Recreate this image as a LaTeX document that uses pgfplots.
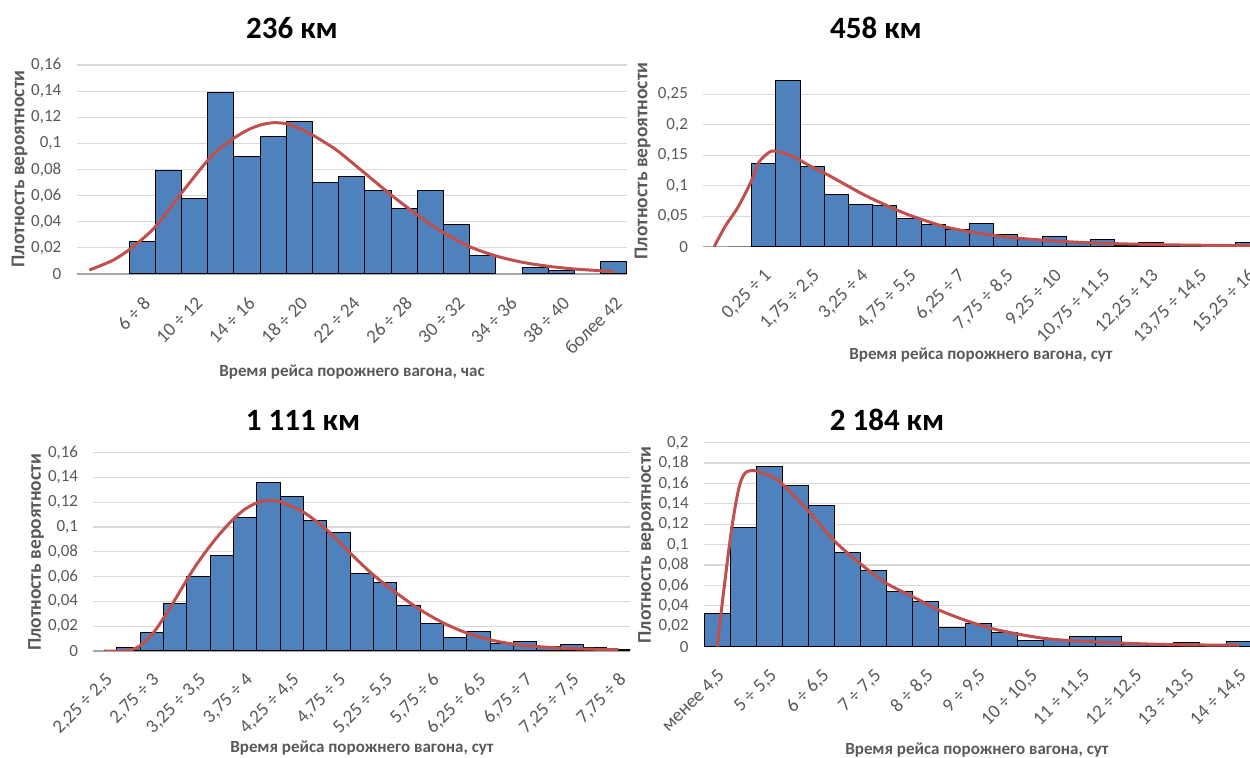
\documentclass[border=0pt]{standalone}
\usepackage{pgfplots}
\pgfplotsset{compat=1.18}
\usepackage{fontspec}
\setmainfont{Carlito}
\definecolor{barblue}{HTML}{4F81BD}
\definecolor{curvered}{HTML}{C0504D}
\definecolor{txtgray}{HTML}{595959}
\definecolor{gridgray}{HTML}{D9D9D9}
\definecolor{axgray}{HTML}{A6A6A6}
\newcommand\tickfont{\fontsize{8.5pt}{10pt}\selectfont}
\newcommand\xtickfont{\fontsize{9.5pt}{11pt}\selectfont}
\newcommand\labfont{\fontsize{8.5pt}{10pt}\selectfont\bfseries}
\newcommand\ylabfont{\fontsize{9.75pt}{11pt}\selectfont\bfseries}
\newcommand\titfont{\fontsize{15.5pt}{18pt}\selectfont\bfseries}
\pgfplotsset{
  hist/.style={
    scale only axis, anchor=south west,
    axis x line*=bottom, axis y line*=left,
    y axis line style={draw=none},
    x axis line style={draw=axgray, line width=0.75pt, -},
    major tick length=0pt,
    ymajorgrids, grid style={draw=gridgray, line width=0.6pt},
    xticklabel style={yshift=-13pt, xshift=2.5pt, rotate=45, anchor=east, inner sep=0pt, font=\xtickfont, text=txtgray},
    yticklabel style={inner sep=0pt, xshift=-7.5pt, font=\tickfont, text=txtgray},
  },
  bars/.style={ybar, bar width=1, bar shift=0pt, fill=barblue, draw=black, line width=0.5pt},
  curve/.style={curvered, line width=1.5pt, smooth},
}
\begin{document}
\begin{tikzpicture}
\useasboundingbox (0pt,0pt) rectangle (625pt,379pt);
\clip (0pt,0pt) rectangle (625pt,379pt);
% ---------- 236 km ----------
\begin{axis}[hist, at={(38.35pt,242pt)}, width=275.15pt, height=104.5pt,
  xmin=-2.5, xmax=18.5, ymin=0, ymax=0.16,
  ytick={0,0.02,0.04,0.06,0.08,0.1,0.12,0.14,0.16},
  yticklabels={0,{0,02},{0,04},{0,06},{0,08},{0,1},{0,12},{0,14},{0,16}},
  xtick={0,2,4,6,8,10,12,14,16,18},
  xticklabels={{6 ÷ 8},{10 ÷ 12},{14 ÷ 16},{18 ÷ 20},{22 ÷ 24},{26 ÷ 28},{30 ÷ 32},{34 ÷ 36},{38 ÷ 40},{более 42}}]
\addplot[bars] coordinates {(0,0.025) (1,0.079) (2,0.058) (3,0.1386) (4,0.0898) (5,0.105) (6,0.1166) (7,0.0697) (8,0.0745) (9,0.064) (10,0.0498) (11,0.0638) (12,0.0377) (13,0.014) (15,0.0052) (16,0.0023) (18,0.0092)};
\addplot[curve] coordinates {(-2.02,0.003) (-1.1,0.0107) (-0.34,0.021) (0.5,0.0362) (1.5,0.062) (2.5,0.087) (3.0,0.0965) (3.5,0.104) (4.0,0.110) (4.5,0.114) (5.0,0.1158) (5.5,0.115) (6.0,0.1115) (6.5,0.1064) (7.0,0.1003) (7.5,0.0936) (8.5,0.0771) (9.5,0.0605) (10.5,0.0452) (11.5,0.0316) (12.5,0.0209) (13.5,0.0138) (14.5,0.009) (15.5,0.0059) (16.5,0.0038) (17.5,0.0025) (18.0,0.0018)};
\end{axis}
% ---------- 458 km ----------
\begin{axis}[hist, at={(351.65pt,255.65pt)}, width=278.3pt, height=91.45pt,
  xmin=-2.5, xmax=20.5, ymin=0, ymax=0.3,
  ytick={0,0.05,0.1,0.15,0.2,0.25},
  yticklabels={0,{0,05},{0,1},{0,15},{0,2},{0,25}},
  xtick={0,2,4,6,8,10,12,14,16,18,20},
  xticklabels={{0,25 ÷ 1},{1,75 ÷ 2,5},{3,25 ÷ 4},{4,75 ÷ 5,5},{6,25 ÷ 7},{7,75 ÷ 8,5},{9,25 ÷ 10},{10,75 ÷ 11,5},{12,25 ÷ 13},{13,75 ÷ 14,5},{15,25 ÷ 16}}]
\addplot[ybar, bar width=1, bar shift=0pt, draw=gray, fill=none, line width=0.6pt] coordinates {(-1,0)};
\addplot[bars] coordinates {(0,0.136) (1,0.272) (2,0.132) (3,0.086) (4,0.069) (5,0.067) (6,0.046) (7,0.037) (8,0.0285) (9,0.038) (10,0.0208) (11,0.012) (12,0.016) (13,0.0066) (14,0.012) (15,0.0027) (16,0.007) (17,0.0025) (18,0.0015) (19,0.0015) (20,0.007)};
\addplot[curve] coordinates {(-2.05,0) (-1.6,0.033) (-1.05,0.066) (-0.5,0.109) (-0.23,0.137) (0.19,0.154) (0.46,0.157) (1.15,0.149) (1.84,0.134) (2.5,0.121) (3.0,0.110) (3.5,0.099) (4.0,0.088) (4.5,0.078) (5.0,0.069) (5.5,0.060) (6.0,0.052) (6.5,0.045) (7.5,0.0325) (8.5,0.0245) (9.5,0.0185) (10.5,0.014) (11.5,0.0108) (12.5,0.0083) (13.5,0.0064) (14.5,0.005) (15.5,0.004) (16.5,0.0032) (17.5,0.0026) (18.5,0.0022) (19.5,0.0019) (20.2,0.0017)};
\end{axis}
% ---------- 1 111 km ----------
\begin{axis}[hist, at={(46.75pt,53.5pt)}, width=268.3pt, height=99.15pt,
  xmin=-0.5, xmax=22.5, ymin=0, ymax=0.16,
  ytick={0,0.02,0.04,0.06,0.08,0.1,0.12,0.14,0.16},
  yticklabels={0,{0,02},{0,04},{0,06},{0,08},{0,1},{0,12},{0,14},{0,16}},
  xtick={0,2,4,6,8,10,12,14,16,18,20,22},
  xticklabels={{2,25 ÷ 2,5},{2,75 ÷ 3},{3,25 ÷ 3,5},{3,75 ÷ 4},{4,25 ÷ 4,5},{4,75 ÷ 5},{5,25 ÷ 5,5},{5,75 ÷ 6},{6,25 ÷ 6,5},{6,75 ÷ 7},{7,25 ÷ 7,5},{7,75 ÷ 8}}]
\addplot[bars] coordinates {(1,0.0025) (2,0.0148) (3,0.0387) (4,0.0605) (5,0.0769) (6,0.108) (7,0.136) (8,0.1245) (9,0.105) (10,0.096) (11,0.0627) (12,0.0553) (13,0.0366) (14,0.0223) (15,0.0108) (16,0.0156) (17,0.0062) (18,0.0073) (19,0.004) (20,0.0051) (21,0.0027) (22,0.0016)};
\addplot[curve] coordinates {(-0.05,0) (0.91,0.0003) (1.48,0.004) (2.05,0.0143) (2.62,0.0299) (3.19,0.0476) (3.76,0.0653) (4.34,0.0809) (4.91,0.0944) (5.48,0.1062) (6.0,0.1145) (6.5,0.1195) (7.0,0.1215) (7.5,0.1205) (8.5,0.112) (9.5,0.0977) (10.5,0.079) (11.5,0.0613) (12.5,0.0466) (13.5,0.0333) (14.5,0.0226) (15.5,0.0145) (16.5,0.009) (17.5,0.0055) (18.5,0.0036) (19.5,0.0024) (20.5,0.0016) (22,0.001)};
\end{axis}
% ---------- 2 184 km ----------
\begin{axis}[hist, at={(352pt,55.65pt)}, width=274.05pt, height=102pt,
  xmin=-0.5, xmax=20.5, ymin=0, ymax=0.2,
  ytick={0,0.02,0.04,0.06,0.08,0.1,0.12,0.14,0.16,0.18,0.2},
  yticklabels={0,{0,02},{0,04},{0,06},{0,08},{0,1},{0,12},{0,14},{0,16},{0,18},{0,2}},
  xtick={0,2,4,6,8,10,12,14,16,18,20},
  xticklabels={{менее 4,5},{5 ÷ 5,5},{6 ÷ 6,5},{7 ÷ 7,5},{8 ÷ 8,5},{9 ÷ 9,5},{10 ÷ 10,5},{11 ÷ 11,5},{12 ÷ 12,5},{13 ÷ 13,5},{14 ÷ 14,5}}]
\addplot[bars] coordinates {(0,0.0324) (1,0.1167) (2,0.177) (3,0.158) (4,0.1386) (5,0.0928) (6,0.0745) (7,0.0539) (8,0.0445) (9,0.0189) (10,0.0228) (11,0.0137) (12,0.0059) (13,0.0066) (14,0.0098) (15,0.0098) (16,0.0023) (17,0.0033) (18,0.0039) (19,0.0017) (20,0.0049)};
\addplot[curve] coordinates {(0,0) (0.5,0.1046) (0.82,0.1536) (1.07,0.170) (1.46,0.1725) (2.1,0.1667) (2.48,0.160) (3.47,0.134) (4.46,0.1046) (5.47,0.0817) (6.5,0.062) (7.5,0.049) (8.5,0.036) (9.5,0.026) (10.5,0.018) (11.5,0.0125) (12.5,0.0083) (13.5,0.006) (15.5,0.0035) (17.5,0.002) (20,0.0014)};
\end{axis}
% ---------- titles and axis labels ----------
\node[font=\titfont] at (146pt,365pt) {236 км};
\node[font=\titfont] at (438pt,365pt) {458 км};
\node[font=\titfont] at (151.5pt,169pt) {1 111 км};
\node[font=\titfont] at (443.5pt,169pt) {2 184 км};
\node[font=\ylabfont, text=txtgray, rotate=90] at (9.75pt,294.5pt) {Плотность вероятности};
\node[font=\ylabfont, text=txtgray, rotate=90] at (321.25pt,298.5pt) {Плотность вероятности};
\node[font=\ylabfont, text=txtgray, rotate=90] at (18pt,102.75pt) {Плотность вероятности};
\node[font=\ylabfont, text=txtgray, rotate=90] at (323pt,106.5pt) {Плотность вероятности};
\node[font=\labfont, text=txtgray] at (176pt,193.15pt) {Время рейса порожнего вагона, час};
\node[font=\labfont, text=txtgray] at (490.5pt,201.5pt) {Время рейса порожнего вагона, сут};
\node[font=\labfont, text=txtgray] at (181pt,4.85pt) {Время рейса порожнего вагона, сут};
\node[font=\labfont, text=txtgray] at (488.5pt,4pt) {Время рейса порожнего вагона, сут};
\end{tikzpicture}
\end{document}
